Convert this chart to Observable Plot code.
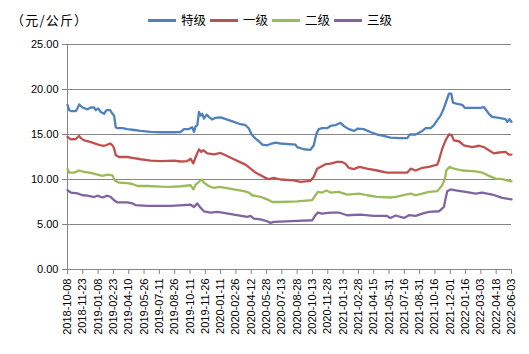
<!DOCTYPE html>
<html>
<head>
<meta charset="utf-8">
<script src="https://cdn.jsdelivr.net/npm/d3@7"></script>
<script src="https://cdn.jsdelivr.net/npm/@observablehq/plot@0.6"></script>
<style>
  html, body { margin: 0; padding: 0; background: #fff; }
  #wrap { position: relative; width: 529px; height: 354px; overflow: hidden; }
  #unit { position: absolute; left: 11px; top: 11px; font: 13px "Noto Sans CJK SC", sans-serif; letter-spacing: 1.2px; color: #000; line-height: 18px; }
  #legend { position: absolute; left: 148px; top: 11px; display: flex; align-items: center; font: 12.5px "Noto Sans CJK SC", sans-serif; color: #000; line-height: 18px; }
  .item { display: flex; align-items: center; margin-right: 4px; }
  .sw { width: 28px; height: 3px; margin-right: 5px; }
</style>
</head>
<body>
<div id="wrap">
  <div id="unit">（元/公斤）</div>
  <div id="legend"></div>
</div>
<script>
const startDate = "2018-10-08";
const seriesNames = ["特级", "一级", "二级", "三级"];
const seriesColors = ["#4F81BD", "#C0504D", "#9BBB59", "#8064A2"];
const yTicks = [0, 5, 10, 15, 20, 25];
const xTickLabels = ["2018-10-08","2018-11-23","2019-01-08","2019-02-23","2019-04-10","2019-05-26","2019-07-11","2019-08-26","2019-10-11","2019-11-26","2020-01-11","2020-02-26","2020-04-12","2020-05-28","2020-07-13","2020-08-28","2020-10-13","2020-11-28","2021-01-13","2021-02-28","2021-04-15","2021-05-31","2021-07-16","2021-08-31","2021-10-16","2021-12-01","2022-01-16","2022-03-03","2022-04-18","2022-06-03"];

// 特级 — days since startDate and price
const tejiDays   = [0,5,12,25,30,35,45,60,70,80,85,92,100,110,117,128,135,140,145,150,165,180,200,220,250,280,320,340,350,365,375,380,385,390,395,400,405,410,418,425,435,445,460,480,500,520,535,545,553,565,575,585,600,610,625,640,685,690,710,730,740,748,755,765,780,790,805,820,830,845,862,872,890,910,930,950,970,998,1021,1028,1046,1066,1076,1091,1101,1111,1121,1131,1141,1146,1153,1158,1171,1186,1194,1216,1241,1251,1266,1276,1296,1316,1321,1328,1334];
const tejiValues = [18.3,17.7,17.6,17.6,17.9,18.35,18.0,17.8,18.0,18.0,17.7,17.9,17.5,17.3,17.7,17.7,17.3,17.1,15.8,15.7,15.7,15.6,15.5,15.4,15.3,15.25,15.25,15.28,15.6,15.6,15.8,15.28,15.9,16.05,17.5,17.1,17.3,16.77,17.2,16.95,16.66,16.85,16.9,16.66,16.4,16.14,16.03,15.66,15.0,14.54,14.25,13.88,13.8,13.95,14.1,14.0,13.88,13.6,13.36,13.3,13.8,15.1,15.6,15.7,15.7,15.95,16.03,16.3,15.95,15.6,15.4,15.66,15.6,15.28,15.0,14.85,14.66,14.6,14.6,15.0,15.0,15.4,15.7,15.7,16.03,16.6,17.1,17.95,19.0,19.55,19.55,18.55,18.4,18.3,17.95,17.95,17.95,18.05,17.3,16.95,16.85,16.7,16.4,16.7,16.4];

// 一级
const yijiDays   = [0,10,25,35,40,50,65,75,90,105,115,128,135,140,145,155,180,195,220,250,280,320,340,360,370,378,385,395,402,408,420,440,460,475,500,520,535,550,565,580,595,605,620,640,680,700,730,740,750,760,775,790,810,825,835,845,860,877,900,930,960,998,1021,1031,1046,1066,1086,1111,1116,1126,1136,1146,1154,1161,1176,1191,1216,1236,1251,1266,1281,1296,1316,1326,1334];
const yijiValues = [14.74,14.45,14.5,14.85,14.6,14.35,14.2,14.1,13.9,13.75,13.8,14.0,13.8,13.45,12.7,12.5,12.5,12.4,12.25,12.1,12.05,12.1,12.0,12.05,12.3,11.8,12.5,13.35,13.06,13.25,12.9,12.8,12.95,12.7,12.25,11.9,11.65,11.2,10.77,10.47,10.18,10.03,10.18,10.0,9.9,9.73,9.85,10.3,11.2,11.4,11.7,11.76,11.95,11.95,11.76,11.3,11.15,11.4,11.2,11.0,10.77,10.77,10.77,11.2,11.0,11.3,11.4,11.65,12.14,13.45,14.35,15.0,14.95,14.35,14.25,13.8,13.6,13.75,13.6,13.25,12.9,13.0,13.06,12.77,12.77];

// 二级
const erjiDays   = [0,5,20,35,50,70,90,105,120,135,142,155,180,195,210,240,280,310,340,370,378,385,395,403,410,425,440,455,470,500,530,545,555,580,600,615,640,690,735,745,752,765,778,790,815,840,877,900,930,970,990,1016,1031,1046,1066,1086,1111,1126,1134,1138,1148,1161,1186,1226,1246,1266,1286,1306,1334];
const erjiValues = [11.2,10.77,10.77,11.0,10.85,10.73,10.55,10.4,10.55,10.47,9.9,9.65,9.6,9.5,9.28,9.28,9.2,9.17,9.25,9.36,8.9,9.43,9.73,10.0,9.65,9.25,9.06,9.17,9.1,8.9,8.7,8.55,8.25,8.07,7.8,7.5,7.5,7.58,7.7,8.25,8.62,8.55,8.77,8.55,8.62,8.33,8.44,8.25,8.07,8.0,8.1,8.33,8.44,8.25,8.44,8.62,8.7,9.36,10.1,11.0,11.4,11.2,11.0,10.9,10.77,10.4,10.1,10.03,9.8];

// 三级
const sanjiDays   = [0,10,30,45,60,80,90,105,120,130,140,150,180,195,205,240,310,350,370,380,390,400,410,430,450,470,500,540,550,560,580,600,610,620,690,735,745,752,765,790,815,840,880,920,960,970,986,1011,1026,1046,1066,1086,1116,1131,1136,1141,1151,1166,1196,1226,1246,1276,1306,1334];
const sanjiValues = [8.8,8.55,8.45,8.25,8.2,8.05,8.2,8.0,8.2,8.05,7.7,7.45,7.45,7.35,7.15,7.08,7.08,7.15,7.2,6.95,7.35,6.85,6.47,6.33,6.4,6.3,6.1,5.85,5.95,5.66,5.58,5.36,5.18,5.3,5.4,5.47,6.03,6.33,6.2,6.33,6.33,6.03,6.1,5.95,5.95,5.73,6.0,5.73,6.03,5.95,6.2,6.4,6.47,6.95,7.88,8.7,8.9,8.8,8.62,8.44,8.55,8.33,7.95,7.8];

const start = new Date(startDate + "T00:00:00Z");
const seriesDays = [tejiDays, yijiDays, erjiDays, sanjiDays];
const seriesValues = [tejiValues, yijiValues, erjiValues, sanjiValues];
const data = seriesNames.flatMap((name, k) =>
  seriesDays[k].map((d, i) => ({series: name, date: d3.utcDay.offset(start, d), value: seriesValues[k][i]}))
);
const xTicks = xTickLabels.map(s => new Date(s + "T00:00:00Z"));
const axisGray = "#868686";

const chart = Plot.plot({
  width: 529,
  height: 354,
  marginLeft: 67,
  marginRight: 18,
  marginTop: 44,
  marginBottom: 85,
  style: {fontFamily: "'Liberation Sans', Arial, sans-serif", fontSize: "11px", color: "#000", background: "transparent"},
  x: {type: "utc", domain: [xTicks[0], xTicks[xTicks.length - 1]]},
  y: {domain: [0, 25]},
  color: {domain: seriesNames, range: seriesColors},
  marks: [
    Plot.gridY(yTicks, {stroke: axisGray, strokeOpacity: 1, strokeWidth: 1}),
    Plot.ruleX([xTicks[0]], {stroke: axisGray}),
    Plot.ruleY([0], {stroke: axisGray}),
    Plot.axisY(yTicks, {tickFormat: d3.format(".2f"), tickSize: 5, tickPadding: 4, stroke: axisGray, label: null}),
    Plot.axisX(xTicks, {tickFormat: d3.utcFormat("%Y-%m-%d"), tickRotate: -90, tickSize: 5, tickPadding: 4, stroke: axisGray, label: null}),
    Plot.line(data, {x: "date", y: "value", z: "series", stroke: "series", strokeWidth: 2.3, curve: "linear"})
  ]
});
const wrap = document.getElementById("wrap");
wrap.insertBefore(chart, wrap.firstChild);
chart.style.position = "absolute";
chart.style.left = "0";
chart.style.top = "0";

const legend = document.getElementById("legend");
seriesNames.forEach((name, i) => {
  const it = document.createElement("div");
  it.className = "item";
  const sw = document.createElement("div");
  sw.className = "sw";
  sw.style.background = seriesColors[i];
  const tx = document.createElement("span");
  tx.textContent = name;
  it.appendChild(sw);
  it.appendChild(tx);
  legend.appendChild(it);
});
</script>
</body>
</html>
